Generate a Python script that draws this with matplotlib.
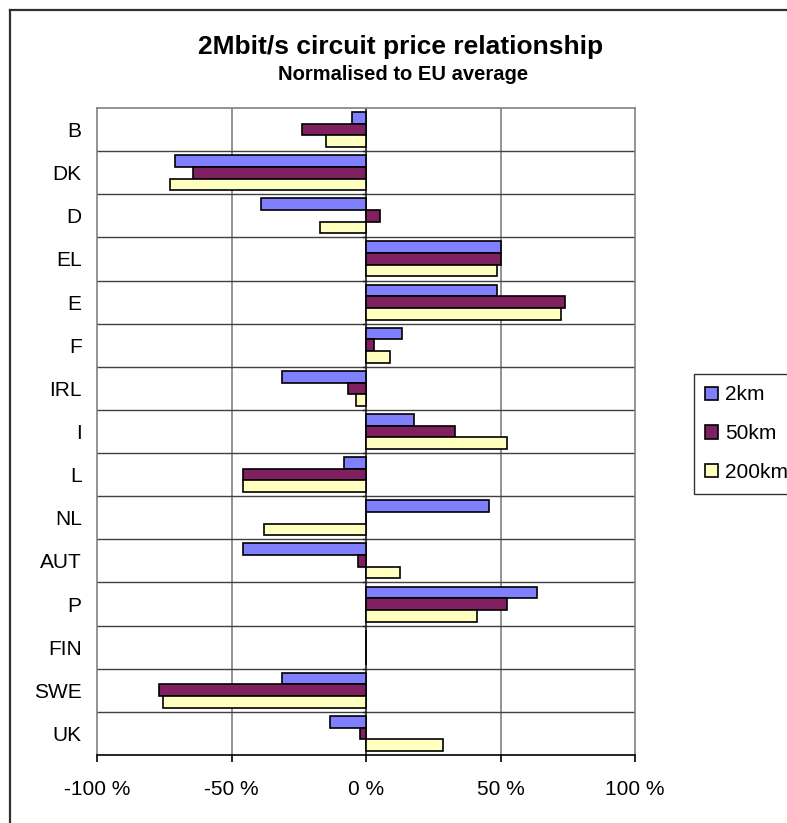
import matplotlib
matplotlib.use("Agg")
import matplotlib.pyplot as plt
from matplotlib.lines import Line2D
from matplotlib.patches import Patch
import numpy as np

plt.rcParams['font.family'] = ['Liberation Sans', 'DejaVu Sans']

categories = ["B", "DK", "D", "EL", "E", "F", "IRL", "I", "L", "NL", "AUT", "P", "FIN", "SWE", "UK"]
series_names = ["2km", "50km", "200km"]
v_2km   = [-5.2, -70.9, -38.9, 50.0, 48.7, 13.3, -31.3, 18.0, -8.1, 45.6, -45.7, 63.6, 0.0, -31.3, -13.3]
v_50km  = [-23.9, -64.4, 5.3, 50.0, 73.9, 3.1, -6.7, 33.1, -45.7, 0.0, -2.8, 52.4, 0.0, -76.9, -2.1]
v_200km = [-14.8, -72.9, -17.2, 48.7, 72.4, 9.1, -3.7, 52.4, -45.7, -38.0, 12.8, 41.2, 0.0, -75.6, 28.5]
colors = ["#8080FF", "#802060", "#FFFFC0"]
xticks = [-100, -50, 0, 50, 100]
xticklabels = ["-100 %", "-50 %", "0 %", "50 %", "100 %"]

W, H = 787, 823
fig = plt.figure(figsize=(W/100, H/100), dpi=100)

# outer chart border
fig.add_artist(Line2D([10/W, 10/W], [0, 1-10/H], color="#303030", lw=1.6))
fig.add_artist(Line2D([10/W, 1], [1-10/H, 1-10/H], color="#303030", lw=1.6))

left, right, top, bottom = 97, 635, 108, 755
ax = fig.add_axes([left/W, 1-bottom/H, (right-left)/W, (bottom-top)/H])

n = len(categories)
y = np.arange(n)
bh = 0.27
for i, (vals, c, name) in enumerate(zip([v_2km, v_50km, v_200km], colors, series_names)):
    ax.barh(y + (i-1)*bh, vals, height=bh, color=c, edgecolor="black", linewidth=1.2, label=name, zorder=3)

ax.set_xlim(-100, 100)
ax.set_ylim(n-0.5, -0.5)

# gridlines
for xv in [-50, 50]:
    ax.axvline(xv, color="#808080", lw=1.2, zorder=1)
for k in range(n-1):
    ax.axhline(k+0.5, color="#404040", lw=1.0, zorder=1)
ax.axvline(0, color="#202020", lw=1.2, zorder=2)
# category axis ticks on zero line
for k in range(n-1):
    ax.plot([-1.2, 0], [k+0.5, k+0.5], color="#202020", lw=1.0, zorder=2)

for s in ["left", "top", "right"]:
    ax.spines[s].set_color("#808080")
    ax.spines[s].set_linewidth(1.2)
ax.spines["bottom"].set_color("black")
ax.spines["bottom"].set_linewidth(1.2)

ax.set_xticks(xticks)
ax.set_xticklabels(xticklabels, fontsize=15)
ax.tick_params(axis="x", direction="out", length=5, width=1.2, pad=13, color="black")
ax.set_yticks(y)
ax.set_yticklabels(categories, fontsize=15)
ax.tick_params(axis="y", length=0, pad=11)

fig.text(401/W, 1-47/H, "2Mbit/s circuit price relationship", ha="center", va="center",
         fontsize=19, fontweight="bold")
fig.text(403/W, 1-75/H, "Normalised to EU average", ha="center", va="center",
         fontsize=14.5, fontweight="bold")

handles = [Patch(facecolor=c, edgecolor="black", linewidth=1.2) for c in colors]
leg = fig.legend(handles, series_names, loc="upper left", bbox_to_anchor=(694/W, 1-374/H),
                 fontsize=15, frameon=True, fancybox=False, edgecolor="black",
                 handlelength=0.6, handleheight=0.6, handletextpad=0.35,
                 labelspacing=0.95, borderpad=0.55, borderaxespad=0)
leg.get_frame().set_linewidth(1.0)

fig.savefig("out.png", dpi=100)
